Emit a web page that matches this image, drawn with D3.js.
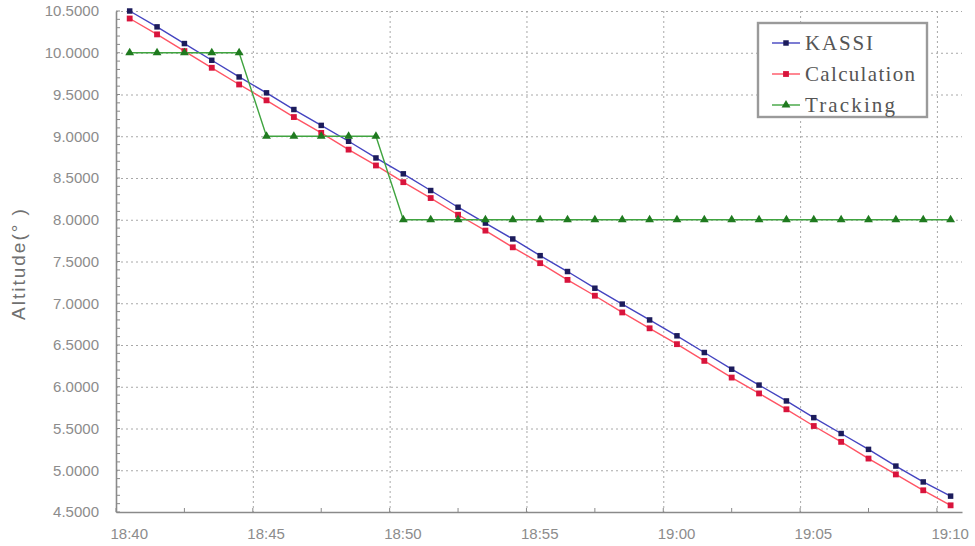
<!DOCTYPE html>
<html>
<head>
<meta charset="utf-8">
<script src="https://cdn.jsdelivr.net/npm/d3@7"></script>
<style>
  html, body { margin: 0; padding: 0; background: #fff; }
  svg { display: block; }
</style>
</head>
<body>
<svg id="chart" width="975" height="546"></svg>
<script>
// Sample times (one per minute)
const times = [
  "18:40:30","18:41:30","18:42:30","18:43:30","18:44:30","18:45:30","18:46:30","18:47:30",
  "18:48:30","18:49:30","18:50:30","18:51:30","18:52:30","18:53:30","18:54:30","18:55:30",
  "18:56:30","18:57:30","18:58:30","18:59:30","19:00:30","19:01:30","19:02:30","19:03:30",
  "19:04:30","19:05:30","19:06:30","19:07:30","19:08:30","19:09:30","19:10:30"
];

// Altitude series (degrees)
const kassi = [
  10.50, 10.31, 10.11, 9.91, 9.71, 9.52, 9.32, 9.13, 8.94, 8.74, 8.55, 8.35, 8.15, 7.96, 7.77, 7.57,
  7.38, 7.18, 6.99, 6.80, 6.61, 6.41, 6.21, 6.02, 5.83, 5.63, 5.44, 5.25, 5.05, 4.86, 4.69
];
const calculation = [
  10.41, 10.22, 10.02, 9.82, 9.62, 9.43, 9.23, 9.04, 8.84, 8.65, 8.45, 8.26, 8.06, 7.87, 7.67, 7.48,
  7.28, 7.09, 6.89, 6.70, 6.51, 6.31, 6.11, 5.92, 5.73, 5.53, 5.34, 5.14, 4.95, 4.76, 4.58
];
const tracking = [
  10, 10, 10, 10, 10, 9, 9, 9, 9, 9, 8, 8, 8, 8, 8, 8,
  8, 8, 8, 8, 8, 8, 8, 8, 8, 8, 8, 8, 8, 8, 8
];

// Axis ticks
const xTickLabels = ["18:40", "18:45", "18:50", "18:55", "19:00", "19:05", "19:10"];
const yTicks = [4.5, 5.0, 5.5, 6.0, 6.5, 7.0, 7.5, 8.0, 8.5, 9.0, 9.5, 10.0, 10.5];
const seriesNames = ["KASSI", "Calculation", "Tracking"];

const svg = d3.select("#chart");
const parse = d3.timeParse("%H:%M:%S");
const parseHM = d3.timeParse("%H:%M");

const x = d3.scaleTime()
  .domain([parse("18:40:00"), parse("19:10:55")])
  .range([116, 962]);
const y = d3.scaleLinear()
  .domain([4.5, 10.5])
  .range([512, 11]);

const axisColor = "#8a8a8a";
const labelColor = "#8c8c8c";

// Grid
const grid = svg.append("g").attr("stroke", "#a8a8a8").attr("stroke-width", 1)
  .attr("stroke-dasharray", "2,3");
grid.selectAll("line.h").data(yTicks.slice(1)).join("line")
  .attr("x1", x.range()[0]).attr("x2", x.range()[1])
  .attr("y1", d => y(d) + 0.5).attr("y2", d => y(d) + 0.5);
grid.selectAll("line.v").data(xTickLabels.slice(1)).join("line")
  .attr("x1", d => x(parseHM(d)) + 0.5).attr("x2", d => x(parseHM(d)) + 0.5)
  .attr("y1", y.range()[1]).attr("y2", y.range()[0]);

// Y axis
const yAxis = svg.append("g").attr("transform", `translate(${x.range()[0]},0)`)
  .call(d3.axisLeft(y).tickValues(yTicks).tickFormat(d3.format(".4f")).tickSize(0).tickPadding(17));
yAxis.select(".domain").attr("stroke", axisColor).attr("stroke-width", 1.6);
yAxis.selectAll("text").attr("fill", labelColor).attr("font-family", "Liberation Sans, Arial, sans-serif")
  .attr("font-size", 15);
// minor ticks inside the axis
const yMinor = d3.range(45, 106).map(v => v / 10);
svg.append("g").selectAll("line").data(yMinor).join("line")
  .attr("x1", x.range()[0]).attr("x2", x.range()[0] + 4)
  .attr("y1", d => y(d)).attr("y2", d => y(d))
  .attr("stroke", axisColor).attr("stroke-width", 1);

// X axis
const xAxis = svg.append("g").attr("transform", `translate(0,${y.range()[0]})`)
  .call(d3.axisBottom(x).tickValues(xTickLabels.map(parseHM)).tickFormat(d3.timeFormat("%H:%M"))
    .tickSize(0).tickPadding(16));
xAxis.select(".domain").attr("stroke", axisColor).attr("stroke-width", 1.6);
xAxis.selectAll("text").attr("fill", labelColor).attr("font-family", "Liberation Sans, Arial, sans-serif")
  .attr("font-size", 15).attr("text-anchor", "start").attr("dx", -6);
const xMinor = d3.range(0, 31, 2.5).map(m => d3.timeSecond.offset(parseHM("18:40"), m * 60));
svg.append("g").selectAll("line").data(xMinor).join("line")
  .attr("x1", d => x(d)).attr("x2", d => x(d))
  .attr("y1", y.range()[0]).attr("y2", y.range()[0] - 4)
  .attr("stroke", axisColor).attr("stroke-width", 1);

// Y axis title
svg.append("text")
  .attr("transform", `translate(25,${(y.range()[0] + y.range()[1]) / 2 + 2}) rotate(-90)`)
  .attr("text-anchor", "middle")
  .attr("font-family", "Liberation Sans, Arial, sans-serif")
  .attr("font-size", 19).attr("fill", "#707070").attr("letter-spacing", 2)
  .text("Altitude(° )");

// Series
const series = [
  { name: seriesNames[0], values: kassi, line: "#4444c0", mark: "#1c1c5c", symbol: d3.symbolSquare, size: 30 },
  { name: seriesNames[1], values: calculation, line: "#ff5464", mark: "#d8143c", symbol: d3.symbolSquare, size: 34 },
  { name: seriesNames[2], values: tracking, line: "#40a440", mark: "#1f7a1f", symbol: d3.symbolTriangle, size: 34 }
];

const line = d3.line().x(d => x(d.t)).y(d => y(d.v));
series.forEach(s => {
  const pts = s.values.map((v, i) => ({ t: parse(times[i]), v }));
  const g = svg.append("g");
  g.append("path").datum(pts).attr("d", line)
    .attr("fill", "none").attr("stroke", s.line).attr("stroke-width", 1.4);
  g.selectAll("path.m").data(pts).join("path").attr("class", "m")
    .attr("transform", d => `translate(${x(d.t)},${y(d.v)})`)
    .attr("d", d3.symbol(s.symbol, s.size))
    .attr("fill", s.mark);
});

// Legend
const lg = svg.append("g");
lg.append("rect").attr("x", 758).attr("y", 23).attr("width", 169).attr("height", 94)
  .attr("fill", "#fff").attr("stroke", "#9a9a9a").attr("stroke-width", 2.4);
const textWidths = [68, 110, 90];
series.forEach((s, i) => {
  const cy = 43 + i * 31;
  lg.append("line").attr("x1", 772).attr("x2", 800).attr("y1", cy).attr("y2", cy)
    .attr("stroke", s.line).attr("stroke-width", 1.4);
  lg.append("path").attr("transform", `translate(786,${cy})`)
    .attr("d", d3.symbol(s.symbol, s.size)).attr("fill", s.mark);
  lg.append("text").attr("x", 805).attr("y", cy + 7)
    .attr("font-family", "Liberation Serif, Times New Roman, serif")
    .attr("font-size", 21).attr("fill", "#555")
    .attr("textLength", textWidths[i]).attr("lengthAdjust", "spacing")
    .text(s.name);
});
</script>
</body>
</html>
